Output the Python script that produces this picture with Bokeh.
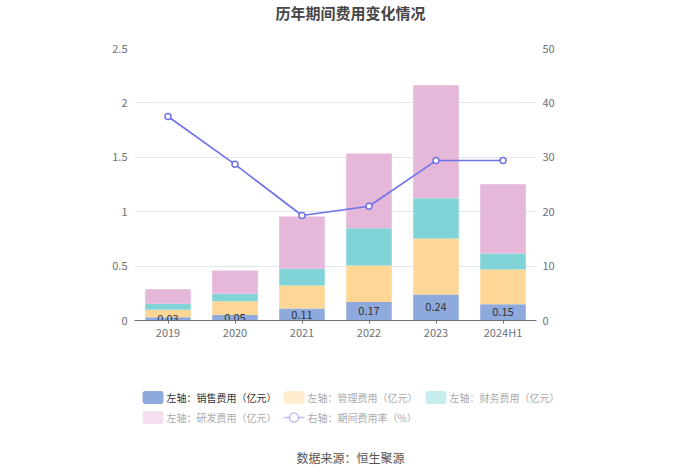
from bokeh.plotting import figure
from bokeh.layouts import column
from bokeh.models import (FactorRange, Range1d, LinearAxis, FixedTicker,
                          NumeralTickFormatter, ColumnDataSource)
from bokeh.core.properties import value
from bokeh.embed import file_html
from bokeh.resources import INLINE

# ---- data ----
categories = ["2019", "2020", "2021", "2022", "2023", "2024H1"]
sales = [0.03, 0.05, 0.11, 0.17, 0.24, 0.15]
mgmt = [0.068, 0.128, 0.212, 0.335, 0.513, 0.318]
finance = [0.055, 0.067, 0.153, 0.343, 0.37, 0.147]
rnd = [0.135, 0.215, 0.481, 0.686, 1.04, 0.637]
rate = [37.5, 28.7, 19.3, 21.0, 29.4, 29.4]
left_ticks = [0, 0.5, 1, 1.5, 2, 2.5]
right_ticks = [0, 10, 20, 30, 40, 50]
series_names = ["左轴：销售费用（亿元）", "左轴：管理费用（亿元）", "左轴：财务费用（亿元）",
                "左轴：研发费用（亿元）", "右轴：期间费用率（%）"]
title_text = "历年期间费用变化情况"
source_text = "数据来源：恒生聚源"

FONT = "Noto Sans CJK SC"
COLORS = ["#8eaadc", "#fed797", "#80d4d8", "#e5b7d9"]
LINE = "#6f72e8"
AXIS_TXT = "#6e7079"
W = 684
HEAD_H, MAIN_H, FOOT_H = 40, 305, 129


def blank(h):
    f = figure(width=W, height=h, x_range=Range1d(0, W), y_range=Range1d(h, 0),
               output_backend="svg", toolbar_location=None,
               min_border=0, outline_line_color=None, frame_align=False,
               x_axis_location=None, y_axis_location=None)
    f.grid.visible = False
    return f


# ---- header (title) ----
head = blank(HEAD_H)
head.text(x=[350], y=[12], text=[title_text], text_align="center", text_baseline="middle",
          text_font=value(FONT), text_font_size="15px", text_font_style="bold",
          text_color="#464646")

# ---- main chart ----
src = ColumnDataSource(dict(cat=categories, sales=sales, mgmt=mgmt, finance=finance, rnd=rnd))

p = figure(x_range=FactorRange(*categories), y_range=Range1d(0, 2.5),
           width=W, height=MAIN_H, output_backend="svg", toolbar_location=None,
           min_border_left=134, min_border_right=W - 536, min_border_top=8,
           min_border_bottom=MAIN_H - 280, outline_line_color=None, frame_align=False)
p.extra_y_ranges = {"rate": Range1d(0, 50)}

p.vbar_stack(["sales", "mgmt", "finance", "rnd"], x="cat", width=0.68, color=COLORS,
             line_width=0, source=src)

p.line(categories, rate, y_range_name="rate", color=LINE, line_width=1.6)
p.scatter(categories, rate, y_range_name="rate", size=6, fill_color="white",
          line_color=LINE, line_width=1.5)

p.text(x=categories, y=[s / 2 for s in sales], text=[f"{s:.2f}" for s in sales],
       text_align="center", text_baseline="middle", text_font_size="11px",
       text_color="#333333", text_font=value(FONT))

p.xgrid.visible = False
p.ygrid.grid_line_color = "#e0e6f1"
p.ygrid.ticker = FixedTicker(ticks=left_ticks)

p.yaxis.ticker = FixedTicker(ticks=left_ticks)
p.yaxis.formatter = NumeralTickFormatter(format="0.[0]")
rax = LinearAxis(y_range_name="rate", ticker=FixedTicker(ticks=right_ticks))
p.add_layout(rax, "right")
for ax in [p.yaxis[0], rax]:
    ax.axis_line_color = None
    ax.major_tick_line_color = None
    ax.minor_tick_line_color = None
    ax.major_label_text_color = AXIS_TXT
    ax.major_label_text_font = FONT
    ax.major_label_text_font_size = "11px"
    ax.major_label_standoff = 1 if ax is not rax else 0

xa = p.xaxis[0]
xa.axis_line_color = AXIS_TXT
xa.major_tick_line_color = AXIS_TXT
xa.major_tick_out = 3
xa.major_tick_in = 0
xa.major_label_text_color = AXIS_TXT
xa.major_label_text_font = FONT
xa.major_label_text_font_size = "11px"
xa.major_label_standoff = 0

# ---- footer (legend + source) ----
foot = blank(FOOT_H)
OFF = HEAD_H + MAIN_H  # page y of the footer's top
legend_x = [142, 283, 425, 142, 283]
legend_y = [397 - OFF, 397 - OFF, 397 - OFF, 417 - OFF, 417 - OFF]
alphas = [1.0, 0.45, 0.45, 0.45, 0.45]
text_colors = ["#333333", "#aaaaaa", "#aaaaaa", "#aaaaaa", "#aaaaaa"]

foot.rect(x=[x + 10.5 for x in legend_x[:4]], y=legend_y[:4], width=21, height=13,
          fill_color=COLORS, fill_alpha=alphas[:4], line_color=None, border_radius=3)
foot.line(x=[legend_x[4], legend_x[4] + 21], y=[legend_y[4], legend_y[4]],
          line_color=LINE, line_alpha=alphas[4], line_width=1.6)
foot.scatter(x=[legend_x[4] + 10.5], y=[legend_y[4]], size=9, fill_color="white",
             line_color=LINE, line_alpha=alphas[4], line_width=1.5)
foot.text(x=[x + 24 for x in legend_x], y=legend_y, text=series_names,
          text_align="left", text_baseline="middle", text_font=value(FONT),
          text_font_size="10px", text_color=text_colors)

foot.text(x=[350], y=[457 - OFF], text=[source_text], text_align="center",
          text_baseline="middle", text_font=value(FONT), text_font_size="12px",
          text_color="#555555")

layout = column(head, p, foot, spacing=0)
open("out.html", "w").write(file_html(layout, INLINE))
